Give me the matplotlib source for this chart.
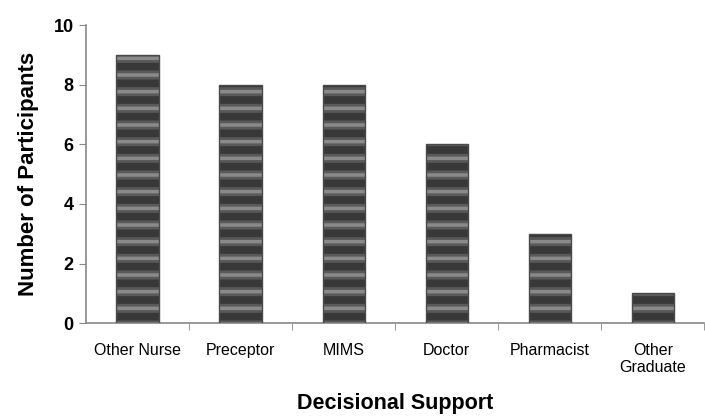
import matplotlib.pyplot as plt
import numpy as np

plt.rcParams.update({'font.family': ['Liberation Sans', 'DejaVu Sans']})

categories = ['Other Nurse', 'Preceptor', 'MIMS', 'Doctor', 'Pharmacist', 'Other\nGraduate']
participants = [9, 8, 8, 6, 3, 1]

fig = plt.figure(figsize=(7.05, 4.18), dpi=100)
ax = fig.add_axes([0.122, 0.227, 0.877, 0.713])

x = np.arange(len(categories))
# striped fill: dark face, a broad mid-grey band, a narrow light core, then outline
plt.rcParams['hatch.linewidth'] = 6.5
ax.bar(x, participants, width=0.41, color='#383838', edgecolor='#595959',
       hatch='-', linewidth=0, zorder=2)
plt.rcParams['hatch.linewidth'] = 2.5
ax.bar(x, participants, width=0.41, fill=False, edgecolor='#8a8a8a',
       hatch='-', linewidth=0, zorder=3)
ax.bar(x, participants, width=0.41, fill=False, edgecolor='#4a4a4a',
       linewidth=1.0, zorder=4)

ax.set_xlim(-0.5, len(categories) - 0.5)
ax.set_ylim(0, 10)
ax.set_yticks([0, 2, 4, 6, 8, 10])
ax.set_yticklabels(['0', '2', '4', '6', '8', '10'], fontweight='bold', fontsize=13)
ax.set_xticks(x)
ax.set_xticklabels(categories, fontsize=11.5)
ax.set_xticks(np.arange(len(categories)) + 0.5, minor=True)
ax.tick_params(axis='x', which='major', length=0, pad=14)
ax.tick_params(axis='x', which='minor', length=5, color='#888888', direction='out')
ax.tick_params(axis='y', length=5, color='#888888', direction='out', pad=4)

for s in ['top', 'right']:
    ax.spines[s].set_visible(False)
for s in ['left', 'bottom']:
    ax.spines[s].set_color('#888888')
    ax.spines[s].set_linewidth(1.2)

ax.set_ylabel('Number of Participants', fontsize=16, fontweight='bold', labelpad=10)
ax.set_xlabel('Decisional Support', fontsize=15.5, fontweight='bold', labelpad=13)

fig.savefig('out.png', dpi=100)
